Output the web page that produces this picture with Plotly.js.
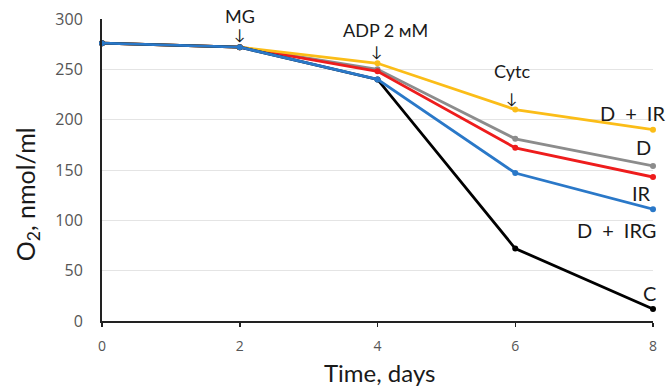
<!DOCTYPE html>
<html><head><meta charset="utf-8">
<script src="https://cdn.plot.ly/plotly-3.0.1.min.js"></script>
<style>body{margin:0;background:#fff}#c{width:669px;height:388px}</style>
</head><body><div id="c"></div>
<script>
const days = [0, 2, 4, 6, 8];
const seriesNames = ["D", "IR", "D + IR", "C", "D + IRG"];
const valD    = [276, 272, 250, 181, 154];
const valIR   = [276, 272, 248, 172, 143];
const valDIR  = [276, 272, 256, 210, 190];
const valC    = [276, 272, 240, 72, 12];
const valDIRG = [276, 272, 240, 147, 111];
const yTicks = [0, 50, 100, 150, 200, 250, 300];
const colors = ["#8c8c8c", "#ee1c1c", "#fbbd18", "#000000", "#2a78c8"];
const values = [valD, valIR, valDIR, valC, valDIRG];

const traces = values.map((v, i) => ({
  x: days, y: v, type: "scatter", mode: "lines+markers", name: seriesNames[i],
  line: {color: colors[i], width: 2.8}, marker: {color: colors[i], size: 6},
  cliponaxis: false, showlegend: false
}));

const F = "Lato, 'Open Sans', sans-serif";
const sp = "\u2002";
const endFont = {family: F, size: 20, color: "#1a1a1a"};
const evFont = {family: F, size: 18, color: "#1a1a1a"};
const arFont = {family: F, size: 15, color: "#1a1a1a"};
const annotations = [
  {x: 8, y: 207, text: "D" + sp + "+" + sp + "IR", xanchor: "right", yanchor: "middle", xshift: 14, font: endFont},
  {x: 8, y: 173, text: "D", xanchor: "right", yanchor: "middle", xshift: 0, font: endFont},
  {x: 8, y: 127, text: "IR", xanchor: "right", yanchor: "middle", xshift: 0, font: endFont},
  {x: 8, y: 90, text: "D" + sp + "+" + sp + "IRG", xanchor: "right", yanchor: "middle", xshift: 5, font: endFont},
  {x: 8, y: 28, text: "C", xanchor: "right", yanchor: "middle", xshift: 5, font: endFont},
  {x: 2, y: 300, yshift: 3, text: "MG", xanchor: "center", yanchor: "middle", font: evFont},
  {x: 2, y: 285, text: "↓", xanchor: "center", yanchor: "middle", font: arFont},
  {x: 4.11, y: 289, text: "ADP 2 мМ", xanchor: "center", yanchor: "middle", font: evFont},
  {x: 3.98, y: 268, text: "↓", xanchor: "center", yanchor: "middle", font: arFont},
  {x: 5.95, y: 248, text: "Cytc", xanchor: "center", yanchor: "middle", font: evFont},
  {x: 5.95, y: 222, text: "↓", xanchor: "center", yanchor: "middle", font: arFont},
  {xref: "paper", yref: "paper", x: 0.5045, y: -0.172, text: "Time, days", xanchor: "center", yanchor: "middle",
   font: {family: F, size: 24, color: "#1a1a1a"}},
  {xref: "paper", yref: "paper", x: -0.136, y: 0.42, text: "O<sub>2</sub>, nmol/ml", textangle: -90,
   xanchor: "center", yanchor: "middle", font: {family: F, size: 25, color: "#1a1a1a"}}
].map(a => Object.assign({showarrow: false, xref: "x", yref: "y"}, a));

const layout = {
  width: 669, height: 388,
  margin: {l: 102, r: 16, t: 19, b: 67},
  paper_bgcolor: "#fff", plot_bgcolor: "#fff",
  font: {family: F},
  xaxis: {
    range: [0, 8], tickvals: days, ticktext: days.map(String),
    showgrid: false, zeroline: false, showline: true, linecolor: "#222", linewidth: 2,
    ticks: "outside", ticklen: 4, tickcolor: "#222", tickwidth: 1.5,
    ticklabelstandoff: 7,
    tickfont: {family: "'Open Sans', sans-serif", size: 14, color: "#555"}
  },
  yaxis: {
    range: [0, 300], tickvals: yTicks, ticktext: yTicks.map(String),
    showgrid: true, gridcolor: "#e4e4e4", gridwidth: 1, zeroline: false,
    showline: true, linecolor: "#222", linewidth: 2, ticks: "",
    ticklabelstandoff: 14,
    tickfont: {family: "'Open Sans', sans-serif", size: 16, color: "#555"}
  },
  annotations: annotations
};
Plotly.newPlot("c", traces, layout, {staticPlot: true});
</script></body></html>
